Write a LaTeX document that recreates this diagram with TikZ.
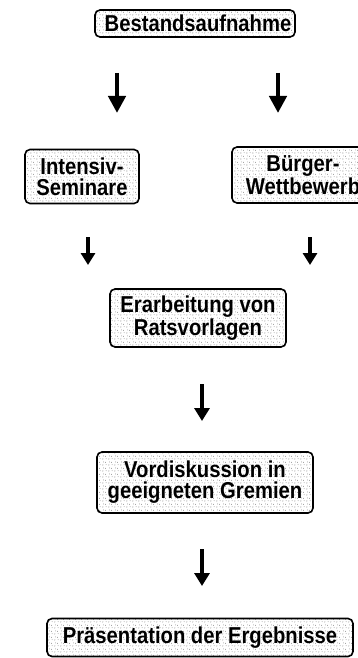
\documentclass[tikz,border=0pt]{standalone}
\usepackage{fontspec}
\setmainfont{Liberation Sans}[FakeStretch=0.88]
\usetikzlibrary{arrows.meta,patterns.meta}

% sparse stipple used as the box shading
\tikzdeclarepattern{
  name=stipple,
  type=uncolored,
  bottom left={(0pt,0pt)},
  top right={(6pt,6pt)},
  tile size={(6pt,6pt)},
  code={
    \fill (1pt,1.2pt) circle (0.5pt);
    \fill (4pt,4.3pt) circle (0.45pt);
    \fill (4.8pt,1.5pt) circle (0.4pt);
    \fill (1.8pt,4.6pt) circle (0.35pt);
  }
}

\tikzset{
  stagebox/.style={draw=black, line width=1.6pt, rounded corners=5pt,
    pattern={stipple}, pattern color=black!70, align=center,
    inner sep=0pt, font=\fontsize{23}{21}\selectfont\bfseries},
  bigarrow/.style={line width=4.5pt, -{Triangle[length=17pt,width=17pt]}},
  midarrow/.style={line width=4pt, -{Triangle[length=13pt,width=15pt]}},
  smallarrow/.style={line width=3.5pt, -{Triangle[length=12pt,width=14pt]}}
}

\begin{document}
\begin{tikzpicture}[x=1pt,y=-1pt]
\useasboundingbox (0,0) rectangle (357,658);

% stages
\node[stagebox, minimum width=200pt, minimum height=27pt] (best) at (195,23.5) {};
\node[font=\fontsize{23}{21}\selectfont\bfseries, inner sep=0pt] (bestlabel) at (best.center) [xshift=3pt] {Bestandsaufnahme};
\node[stagebox, minimum width=114pt, minimum height=54pt] (sem) at (82,176.5) {Intensiv-\\Seminare};
\node[stagebox, minimum width=142pt, minimum height=56pt] (wett) at (303,175) {Bürger-\\Wettbewerb};
\node[stagebox, minimum width=176pt, minimum height=58pt] (rats) at (198,318) {Erarbeitung von\\Ratsvorlagen};
\node[stagebox, minimum width=216pt, minimum height=61pt] (grem) at (205,482.5) {Vordiskussion in\\geeigneten Gremien};
\node[stagebox, minimum width=306pt, minimum height=38pt] (praes) at (200,637.5) {Präsentation der Ergebnisse};

% arrow end points
\coordinate (a1s) at (117,73);  \coordinate (a1e) at (117,113);
\coordinate (a2s) at (278,73);  \coordinate (a2e) at (278,113);
\coordinate (a3s) at (88,237);  \coordinate (a3e) at (88,265);
\coordinate (a4s) at (310,237); \coordinate (a4e) at (310,265);
\coordinate (a5s) at (202,384); \coordinate (a5e) at (202,421);
\coordinate (a6s) at (202,549); \coordinate (a6e) at (202,586);

\draw[bigarrow] (a1s) -- (a1e);
\draw[bigarrow] (a2s) -- (a2e);
\draw[smallarrow] (a3s) -- (a3e);
\draw[smallarrow] (a4s) -- (a4e);
\draw[midarrow] (a5s) -- (a5e);
\draw[midarrow] (a6s) -- (a6e);
\end{tikzpicture}
\end{document}
